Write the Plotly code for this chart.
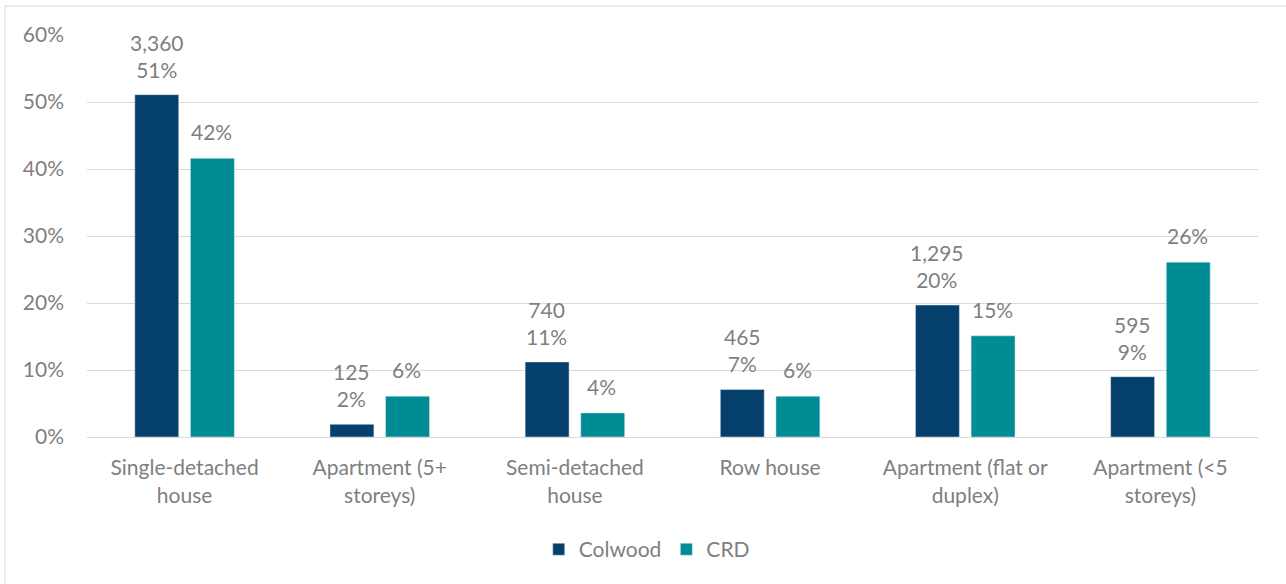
import plotly.graph_objects as go

# Dwelling types (category axis)
categories = [
    "Single-detached<br>house",
    "Apartment (5+<br>storeys)",
    "Semi-detached<br>house",
    "Row house",
    "Apartment (flat or<br>duplex)",
    "Apartment (&lt;5<br>storeys)",
]

# Colwood: dwelling counts and share of all dwellings (%)
colwood_counts = [3360, 125, 740, 465, 1295, 595]
colwood_share = [51.1, 1.9, 11.2, 7.1, 19.7, 9.0]

# Capital Regional District: share of all dwellings (%)
crd_share = [41.6, 6.1, 3.6, 6.1, 15.1, 26.1]

y_ticks = [0, 10, 20, 30, 40, 50, 60]

NAVY = "#053F6B"
TEAL = "#008C95"
GREY_TEXT = "#7F7F7F"
FONT = "Lato, Carlito, Calibri, sans-serif"
FS = 21

colwood_text = [f"{c:,}<br>{round(s)}%" for c, s in zip(colwood_counts, colwood_share)]
crd_text = [f"{round(s)}%" for s in crd_share]

fig = go.Figure()
fig.add_trace(go.Bar(
    name="Colwood", x=categories, y=colwood_share,
    marker=dict(color=NAVY), hoverinfo="skip",
))
fig.add_trace(go.Bar(
    name="CRD", x=categories, y=crd_share,
    marker=dict(color=TEAL), hoverinfo="skip",
))

# value labels above each bar, shifted onto the grouped bar positions
for cat, val, txt in zip(categories, colwood_share, colwood_text):
    fig.add_annotation(x=cat, y=val, text=txt, showarrow=False,
                       xshift=-28, yshift=11, yanchor="bottom",
                       font=dict(size=FS, color=GREY_TEXT, family=FONT))
for cat, val, txt in zip(categories, crd_share, crd_text):
    fig.add_annotation(x=cat, y=val, text=txt, showarrow=False,
                       xshift=27, yshift=12, yanchor="bottom",
                       font=dict(size=FS, color=GREY_TEXT, family=FONT))

# light frame around the chart area (only top and left edges fall inside the page)
fig.add_shape(
    type="rect", xref="paper", yref="paper",
    x0=(5 - 87) / 1171, x1=(1295 - 87) / 1171,
    y0=(437 - 600) / 402, y1=(437 - 6) / 402,
    line=dict(color="#D9D9D9", width=1), fillcolor="rgba(0,0,0,0)",
    layer="below",
)

fig.update_layout(
    width=1286, height=584,
    margin=dict(l=87, r=28, t=35, b=147),
    paper_bgcolor="white", plot_bgcolor="white",
    barmode="group", bargap=0.43, bargroupgap=0.21,
    font=dict(family=FONT, color=GREY_TEXT, size=FS),
    showlegend=True,
    legend=dict(
        orientation="h", x=0.478, xanchor="center", y=-0.28, yanchor="middle",
        font=dict(size=FS, color=GREY_TEXT, family=FONT),
        itemwidth=30, traceorder="normal",
    ),
    xaxis=dict(
        showgrid=False, showline=True, linecolor="#D9D9D9", linewidth=1,
        ticks="", tickfont=dict(size=FS, color=GREY_TEXT, family=FONT),
        ticklabelstandoff=12,
    ),
    yaxis=dict(
        range=[0, 60], tickvals=y_ticks,
        ticktext=[f"{v}%" for v in y_ticks],
        showgrid=True, gridcolor="#D9D9D9", gridwidth=1,
        zeroline=False, showline=False, ticks="",
        tickfont=dict(size=FS, color=GREY_TEXT, family=FONT),
        ticklabelstandoff=22,
    ),
)

fig.write_html("out.html")
